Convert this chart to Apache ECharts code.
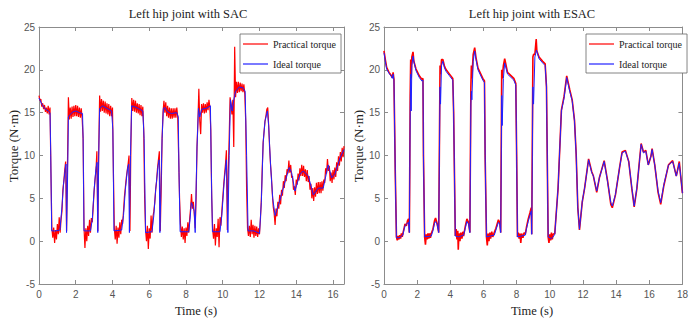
<!DOCTYPE html>
<html><head><meta charset="utf-8">
<script src="https://cdn.jsdelivr.net/npm/echarts@6/dist/echarts.min.js"></script>
<style>html,body{margin:0;padding:0;background:#fff}#c{width:691px;height:320px}</style>
</head><body><div id="c"></div>
<script>
// ---------- data ----------
const panelTitles = ['Left hip joint with SAC', 'Left hip joint with ESAC'];
const seriesNames = ['Practical torque', 'Ideal torque'];
const xAxisName = 'Time (s)';
const yAxisName = 'Torque (N\u00b7m)';
const sacTimeMax = 16.6;
const esacTimeMax = 18;
const torqueMin = -5, torqueMax = 25, torqueStep = 5, timeStep = 2;

// SAC practical torque, sampled every 0.05 s from t = 0
const sacSampleStep = 0.05;
const sacPracticalValues = [
 17.0,16.4,16.6,15.7,16.1,15.4,15.9,15.1,15.6,14.9,
 15.8,14.8,15.6,8.0,1.5,0.4,1.6,-0.2,1.3,0.2,
 2.0,0.8,2.8,1.0,2.5,3.5,6.0,7.0,8.3,9.3,
 1.2,9.0,16.8,14.2,15.6,14.3,15.7,14.5,15.8,14.6,
 15.9,14.6,15.8,14.5,15.6,14.4,15.5,14.3,12.0,1.6,
 -0.8,1.5,0.0,1.8,0.6,2.5,1.0,2.7,2.2,4.0,
 5.8,7.2,8.2,10.5,1.2,10.5,17.0,15.1,16.6,15.2,
 16.4,15.0,16.3,14.9,16.1,14.8,16.0,14.6,15.8,14.6,
 15.6,8.0,1.5,0.2,1.8,-0.3,1.6,0.4,2.2,0.8,
 2.5,2.0,3.5,5.2,6.3,7.4,8.2,9.0,10.0,1.2,
 11.0,16.7,15.2,16.5,15.1,16.4,15.0,16.1,14.9,16.0,
 14.7,15.9,14.6,15.7,13.0,5.0,1.3,0.0,1.8,-0.9,
 1.5,0.3,3.0,1.0,2.8,3.5,4.5,6.0,7.0,8.5,
 9.5,10.5,1.2,6.0,12.0,15.0,16.4,15.0,16.2,14.6,
 15.8,14.4,15.6,14.3,15.5,14.3,15.5,14.4,15.5,14.4,
 15.6,14.5,10.0,5.0,2.0,0.5,1.7,0.2,1.5,-0.2,
 1.6,0.6,2.2,1.0,2.6,3.8,5.5,3.8,4.6,3.2,
 1.5,5.0,11.0,14.0,17.8,14.0,12.5,16.0,15.0,16.1,
 14.9,16.0,15.0,16.2,15.3,16.5,15.6,13.0,5.0,1.4,
 0.3,2.0,-0.5,1.5,0.5,2.6,-0.7,2.8,1.8,3.5,
 5.0,6.5,7.8,9.0,10.6,1.3,8.0,12.0,16.8,16.0,
 14.8,16.5,11.0,22.7,16.8,18.6,17.3,18.6,17.4,18.5,
 17.5,18.4,17.4,18.3,17.2,14.0,6.0,1.5,0.6,1.8,
 0.5,2.5,0.8,1.9,0.4,1.8,0.6,1.7,0.5,1.5,
 0.8,2.5,4.8,8.5,11.5,12.8,14.0,14.6,15.4,15.6,
 13.5,11.0,9.0,7.5,5.5,4.0,3.2,1.9,3.8,2.9,
 4.6,3.8,5.4,4.3,6.0,5.3,7.0,6.2,7.7,7.0,
 8.4,7.9,9.4,8.0,8.9,7.4,7.6,6.0,6.4,5.4,
 7.2,6.6,7.9,7.1,8.5,7.6,8.9,7.6,8.8,7.5,
 8.4,7.0,8.3,6.9,7.6,6.0,6.7,5.0,6.2,4.7,
 6.3,5.2,6.8,5.5,6.9,5.6,6.9,5.6,7.0,5.9,
 7.2,6.8,8.5,7.9,9.6,8.2,8.8,7.0,8.0,6.8,
 8.3,7.2,8.6,7.5,9.2,8.2,9.9,8.8,10.4,9.3,
 10.9,9.8,11.1
];

// SAC ideal torque [time, torque]
const sacIdeal = [
 [0,16.7],[0.15,16.0],[0.3,15.5],[0.5,15.2],[0.6,15.0],[0.64,10],[0.69,1.2],[0.9,1.2],[1.14,1.3],
 [1.25,4],[1.33,6.5],[1.43,8.5],[1.47,9.0],[1.5,1.0],[1.56,8],[1.6,14.5],[1.7,14.8],[1.85,15.1],
 [2.0,15.2],[2.2,15.0],[2.37,14.9],[2.4,12],[2.45,1.2],[2.8,1.2],[2.9,2.5],[3.0,6],[3.1,8.5],
 [3.16,9.2],[3.2,1.0],[3.25,10],[3.3,15.5],[3.45,15.8],[3.7,15.5],[3.95,15.2],[4.02,13],[4.08,1.2],
 [4.5,1.3],[4.6,3],[4.7,6],[4.82,8.5],[4.88,9.0],[4.92,1.0],[4.98,10],[5.04,15.8],[5.2,15.7],
 [5.4,15.5],[5.65,15.2],[5.72,12],[5.8,1.0],[6.15,1.1],[6.25,3],[6.35,6],[6.48,8.8],[6.54,9.5],
 [6.58,1.0],[6.7,12],[6.77,15.5],[6.85,15.6],[7.0,15.1],[7.2,14.9],[7.5,15.0],[7.58,14.5],[7.62,8],
 [7.68,1.1],[8.15,1.1],[8.22,2.5],[8.29,4.5],[8.36,4.2],[8.45,3.5],[8.5,1.0],[8.6,11],[8.68,15.5],
 [8.75,14.5],[8.85,15.4],[9.1,15.5],[9.33,15.8],[9.38,8],[9.44,1.1],[9.85,1.1],[9.95,3],[10.08,7],
 [10.2,9.5],[10.28,1.0],[10.35,10],[10.42,16.5],[10.52,15.2],[10.6,16.5],[10.7,17.5],[10.9,18.0],
 [11.1,17.9],[11.22,17.5],[11.3,10],[11.38,1.2],[11.7,1.2],[12.0,0.9],[12.1,4.5],[12.2,11.5],
 [12.3,14],[12.43,15.2],[12.5,13.5],[12.6,9],[12.72,5],[12.85,3.0],[13.1,4.7],[13.4,7.0],
 [13.62,8.6],[13.75,8.0],[13.93,5.85],[14.2,7.8],[14.38,8.2],[14.66,7.6],[14.93,5.4],[15.2,6.2],
 [15.47,6.2],[15.74,8.9],[15.93,7.4],[16.1,7.8],[16.38,9.7],[16.6,10.7]
];

// ESAC practical torque [time, torque]
const esacPractical = [
 [0,22.2],[0.08,21.2],[0.16,20.3],[0.3,19.7],[0.45,19.3],[0.5,19.1],[0.55,19.7],[0.6,18.9],[0.68,8],
 [0.75,0.5],[0.8,0.1],[0.85,0.6],[0.9,0.2],[0.95,0.7],[1.0,0.3],[1.05,0.9],[1.1,0.5],[1.14,0.9],
 [1.2,1.4],[1.27,2.0],[1.35,1.8],[1.42,2.4],[1.48,2.6],[1.53,1.0],[1.58,17],[1.61,21.2],[1.64,19],
 [1.68,21.5],[1.75,22.1],[1.8,21],[1.93,20.1],[2.13,19.3],[2.28,18.9],[2.35,19.0],[2.38,10],
 [2.45,0.5],[2.5,-0.4],[2.55,0.8],[2.6,0.2],[2.65,0.9],[2.7,0.3],[2.75,0.9],[2.8,0.4],[2.85,0.9],
 [2.95,1.4],[3.05,2.4],[3.11,2.7],[3.2,2.1],[3.3,1.0],[3.38,20.5],[3.41,19.5],[3.47,21.2],
 [3.55,21.2],[3.65,20.4],[3.75,20.0],[3.95,19.5],[4.15,19.0],[4.2,15],[4.3,0.6],[4.35,1.4],
 [4.4,0.2],[4.45,1.2],[4.48,-1.0],[4.52,0.9],[4.58,0.0],[4.63,1.0],[4.7,0.3],[4.75,1.1],[4.8,0.6],
 [4.9,1.7],[5.0,2.6],[5.1,2.2],[5.18,1.0],[5.24,18],[5.27,20.5],[5.3,19],[5.38,21.8],[5.47,22.6],
 [5.55,21.4],[5.67,20.2],[5.96,19.0],[6.06,18.7],[6.1,10],[6.18,0.5],[6.23,-0.5],[6.28,0.9],
 [6.33,0.0],[6.38,1.0],[6.43,0.3],[6.5,1.1],[6.56,0.5],[6.65,1.0],[6.75,1.5],[6.9,2.5],[6.98,2.2],
 [7.04,1.0],[7.1,20],[7.13,19],[7.2,20.5],[7.28,21.3],[7.45,19.7],[7.83,19.0],[7.95,18.4],[8.0,10],
 [8.05,0.5],[8.1,1.0],[8.15,0.3],[8.2,0.9],[8.25,-0.2],[8.3,0.9],[8.38,0.4],[8.45,1.0],[8.52,0.8],
 [8.6,1.7],[8.7,2.6],[8.8,3.3],[8.88,3.9],[8.91,0.8],[8.98,21.5],[9.02,21.8],[9.1,21.8],[9.18,23.6],
 [9.22,22.2],[9.35,21.5],[9.57,21.0],[9.72,20.7],[9.8,18],[9.9,0.5],[9.95,-0.2],[10.0,0.8],
 [10.05,0.1],[10.1,1.0],[10.15,0.2],[10.2,0.8],[10.3,0.9],[10.5,6.2],[10.7,15.3],[10.86,16.9],
 [11.02,19.3],[11.2,17.7],[11.35,16.5],[11.49,14.1],[11.59,10.2],[11.69,3.9],[11.79,1.3],
 [11.96,4.6],[12.1,6.2],[12.34,9.6],[12.53,8.1],[12.63,7.6],[12.83,5.7],[12.99,7.4],[13.28,9.4],
 [13.48,7.1],[13.68,4.3],[13.77,3.9],[13.96,5.4],[14.21,8.6],[14.36,10.4],[14.56,10.6],[14.76,9.3],
 [14.95,6.1],[15.09,4.0],[15.25,6.1],[15.41,9.4],[15.51,11.4],[15.65,10.4],[15.79,10.6],
 [15.94,8.9],[16.1,9.9],[16.17,10.8],[16.33,8.9],[16.53,5.7],[16.69,4.3],[16.88,6.5],[17.16,8.9],
 [17.41,9.4],[17.63,7.6],[17.81,9.3],[17.9,7.5],[18.0,5.6]
];

// ESAC ideal torque [time, torque]
const esacIdeal = [
 [0,22.0],[0.08,21.0],[0.16,20.1],[0.3,19.6],[0.45,19.2],[0.5,19.0],[0.55,19.5],[0.6,18.8],[0.68,8],
 [0.75,0.4],[0.9,0.4],[1.0,0.5],[1.14,0.7],[1.2,1.3],[1.27,1.8],[1.4,2.1],[1.48,2.2],[1.53,1.0],
 [1.58,15],[1.61,19.5],[1.64,15.2],[1.68,20.5],[1.75,21.6],[1.82,20.8],[1.93,19.9],[2.13,19.1],
 [2.28,18.7],[2.35,18.8],[2.38,10],[2.45,0.5],[2.85,0.6],[2.95,1.2],[3.05,2.1],[3.11,2.3],[3.2,2.0],
 [3.3,1.0],[3.38,18],[3.41,16],[3.47,20.5],[3.55,21.0],[3.65,20.2],[3.75,19.8],[3.95,19.3],
 [4.15,18.8],[4.2,15],[4.3,0.6],[4.5,0.5],[4.8,0.7],[4.9,1.5],[5.0,2.3],[5.1,2.0],[5.18,1.0],
 [5.24,16],[5.27,17.5],[5.3,16.5],[5.38,21],[5.47,22.2],[5.55,21.2],[5.67,20.0],[5.96,18.8],
 [6.06,18.5],[6.1,10],[6.18,0.5],[6.65,0.7],[6.75,1.3],[6.9,2.2],[6.98,2.0],[7.04,1.0],[7.1,17],
 [7.13,13.5],[7.2,19],[7.28,20.8],[7.45,19.5],[7.83,18.8],[7.95,18.2],[8.0,10],[8.05,0.5],
 [8.52,0.7],[8.6,1.5],[8.7,2.3],[8.8,3.0],[8.88,3.5],[8.91,0.8],[8.98,18],[9.02,16],[9.1,21.5],
 [9.2,22.3],[9.35,21.3],[9.57,20.8],[9.72,20.5],[9.8,18],[9.9,0.5],[10.1,0.3],[10.2,0.5],[10.3,0.8],
 [10.5,6.2],[10.7,15.2],[10.86,16.7],[11.02,19.1],[11.2,17.5],[11.35,16.4],[11.49,14.0],
 [11.59,10.1],[11.69,3.9],[11.79,1.4],[11.96,4.67],[12.1,6.2],[12.34,9.5],[12.53,8.0],[12.63,7.6],
 [12.83,5.85],[12.99,7.4],[13.28,9.3],[13.48,7.0],[13.68,4.5],[13.77,4.1],[13.96,5.45],[14.21,8.6],
 [14.36,10.3],[14.56,10.5],[14.76,9.3],[14.95,6.2],[15.09,4.1],[15.25,6.2],[15.41,9.3],[15.51,11.3],
 [15.65,10.3],[15.79,10.5],[15.94,8.9],[16.1,9.9],[16.17,10.7],[16.33,8.9],[16.53,5.85],
 [16.69,4.5],[16.88,6.6],[17.16,8.9],[17.41,9.3],[17.63,7.6],[17.81,9.1],[17.9,7.5],[18.0,5.6]
];

// ---------- chart ----------
const sacPractical = sacPracticalValues.map((v, i) => [+(i * sacSampleStep).toFixed(2), v]);

const axisGray = '#8c8c8c';
const labelColor = '#555';
const serif = '"Liberation Serif", "Times New Roman", serif';
const sans = '"Liberation Sans", Arial, sans-serif';

function xAxes(gi, max) {
  const common = {
    gridIndex: gi, type: 'value', min: 0, max: max, interval: timeStep,
    axisLine: { onZero: false, lineStyle: { color: axisGray, width: 1 } },
    axisTick: { inside: true, length: 4, lineStyle: { color: axisGray } },
    splitLine: { show: false }
  };
  return [
    Object.assign({}, common, { position: 'bottom',
      axisLabel: { color: labelColor, fontSize: 10, fontFamily: sans, margin: 5, showMaxLabel: max % timeStep === 0 } }),
    Object.assign({}, common, { position: 'top', axisLabel: { show: false } })
  ];
}
function yAxes(gi) {
  const common = {
    gridIndex: gi, type: 'value', min: torqueMin, max: torqueMax, interval: torqueStep,
    axisLine: { show: true, onZero: false, lineStyle: { color: axisGray, width: 1 } },
    axisTick: { show: true, inside: true, length: 4, lineStyle: { color: axisGray } },
    splitLine: { show: false }
  };
  return [
    Object.assign({}, common, { position: 'left',
      axisLabel: { color: labelColor, fontSize: 10, fontFamily: sans, margin: 4 } }),
    Object.assign({}, common, { position: 'right', axisLabel: { show: false } })
  ];
}
function legendAt(left, top) {
  return {
    left: left, top: top, orient: 'vertical', data: seriesNames,
    icon: 'rect', itemWidth: 25, itemHeight: 1.2, itemGap: 10,
    padding: [5, 5, 4, 3], borderColor: '#666', borderWidth: 0.8, backgroundColor: '#fff',
    textStyle: { fontFamily: serif, fontSize: 10, color: '#222' }, selectedMode: false
  };
}
function txt(text, x, y, size, rot) {
  return { type: 'text', x: x, y: y, rotation: rot || 0, z: 10,
    style: { text: text, font: size + 'px ' + serif, fill: '#222',
      textAlign: 'center', textVerticalAlign: 'middle', align: 'center', verticalAlign: 'middle' } };
}

const chart = echarts.init(document.getElementById('c'), null, { renderer: 'svg' });
chart.setOption({
  animation: false,
  backgroundColor: '#fff',
  grid: [
    { left: 39, top: 27, width: 305, height: 257 },
    { left: 384, top: 27, width: 305, height: 257 }
  ],
  xAxis: xAxes(0, sacTimeMax).concat(xAxes(1, esacTimeMax)),
  yAxis: yAxes(0).concat(yAxes(1)),
  legend: [legendAt(240, 34), legendAt(586, 34)],
  graphic: [
    txt(panelTitles[0], 188, 14, 12.5),
    txt(panelTitles[1], 532, 14, 12.5),
    txt(xAxisName, 196, 311, 12.5),
    txt(xAxisName, 532, 311, 12.5),
    txt(yAxisName, 13, 146, 13, Math.PI / 2),
    txt(yAxisName, 358, 146, 13, Math.PI / 2)
  ],
  series: [
    { name: seriesNames[0], type: 'line', xAxisIndex: 0, yAxisIndex: 0, data: sacPractical,
      showSymbol: false, symbol: 'none', color: '#ff0000', lineStyle: { color: '#ff0000', width: 1.2 }, z: 2 },
    { name: seriesNames[1], type: 'line', xAxisIndex: 0, yAxisIndex: 0, data: sacIdeal,
      showSymbol: false, symbol: 'none', color: '#2020ff', lineStyle: { color: '#2020ff', width: 1 }, z: 3 },
    { name: seriesNames[0], type: 'line', xAxisIndex: 2, yAxisIndex: 2, data: esacPractical,
      showSymbol: false, symbol: 'none', color: '#ff0000', lineStyle: { color: '#ff0000', width: 1.6 }, z: 2 },
    { name: seriesNames[1], type: 'line', xAxisIndex: 2, yAxisIndex: 2, data: esacIdeal,
      showSymbol: false, symbol: 'none', color: '#2020ff', lineStyle: { color: '#2020ff', width: 1 }, z: 3 }
  ]
});
</script></body></html>
